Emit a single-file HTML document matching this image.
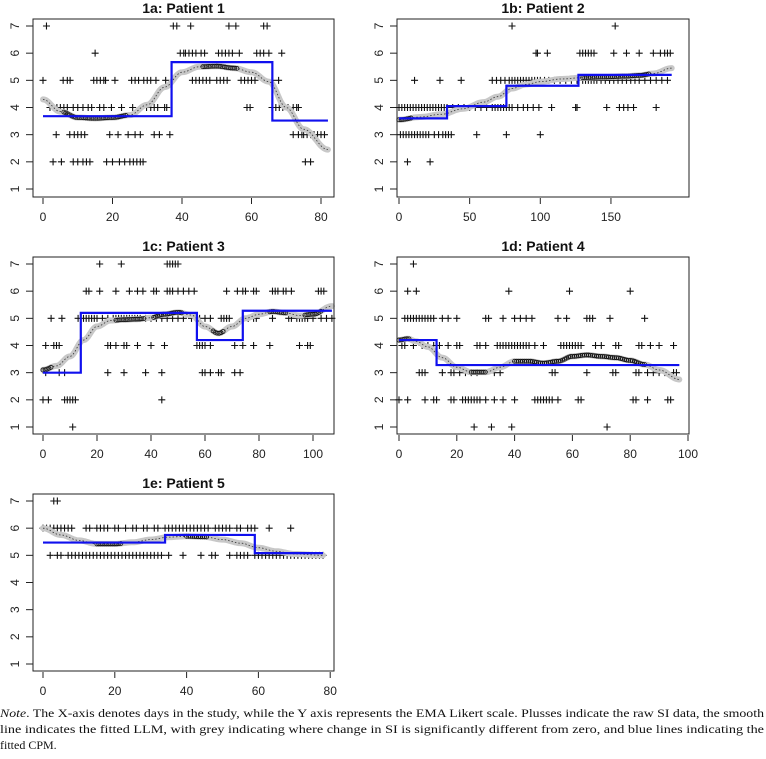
<!DOCTYPE html>
<html><head><meta charset="utf-8"><style>
html,body{margin:0;padding:0;background:#fff;width:766px;height:759px;overflow:hidden}
svg{display:block}
</style></head><body>
<svg id="fig" width="766" height="759" viewBox="0 0 766 759" xmlns="http://www.w3.org/2000/svg">
<text x="0" y="717" font-family="Liberation Serif, serif" font-size="12" fill="#111" textLength="764" lengthAdjust="spacingAndGlyphs"><tspan font-style="italic">Note</tspan>. The X-axis denotes days in the study, while the Y axis represents the EMA Likert scale. Plusses indicate the raw SI data, the smooth</text>
<text x="0" y="733" font-family="Liberation Serif, serif" font-size="12" fill="#111" textLength="764" lengthAdjust="spacingAndGlyphs">line indicates the fitted LLM, with grey indicating where change in SI is significantly different from zero, and blue lines indicating the</text>
<text x="0" y="749" font-family="Liberation Serif, serif" font-size="12" fill="#111">fitted CPM.</text>
</svg>
<script>
// ---------- data ----------
const titles = ["1a: Patient 1","1b: Patient 2","1c: Patient 3","1d: Patient 4","1e: Patient 5"];
const xTicks1 = [0,20,40,60,80];
const xTicks2 = [0,50,100,150];
const xTicks3 = [0,20,40,60,80,100];
const xTicks4 = [0,20,40,60,80,100];
const xTicks5 = [0,20,40,60,80];
const yTicks = [1,2,3,4,5,6,7];

// raw points: per level lists of days
const raw1 = {7:[1,37.5,38.5,42.5,53.5,55.5,63.5,64.5],
 6:[15,39.5,40.5,41,42,43,44,45.5,46.5,50.5,51.5,52.5,53.5,54.5,56.5,61.5,62.5,63.5,65,68.7],
 5:[0,5.8,7,7.8,14.6,15.5,16.5,17.5,18,20.7,25.5,26.5,27.5,29,30,31,32.5,35.3,43,44,45,46,47,48,50,51,52,53,57,58,59,60,61,65.9,67.8],
 4:[2,3,4,5,6,7,8.7,10,11.5,13,14,16.3,17.5,19.7,22.6,25.8,29.8,31,32,33,35,35.6,58.7,59.6,65.9,67,68,69,70.5,72,73,73.5],
 3:[3.8,7.7,9,10,11,12,19.2,21.6,24.5,26.5,28,32,33.5,36.5,72,73.5,74.5,75,76,77,78,79,80,81],
 2:[2.9,5.3,8.7,10,11.5,12.5,13.5,18.3,20,22,23.5,25,26,27,28,28.8,75.5,77]};
const raw2 = {7:[80,153],
 6:[97,98,105,128,130,132,134,136,138,152,161,170,180,185,188,190,192],
 5:[11,29,44,66,69,72,75,78,80,82,84,86,88,90,92,94,96,98,100,103,106,110,114,118,122,126,130,132,134,136,138,140,143,146,149,152,155,158,161,164,167,170,174,178,182,186,190],
 4:[0,2,4,6,8,10,12,14,16,18,20,22,24,26,28,30,32,34,38,42,46,50,54,58,62,66,68,70,72,74,76,78,80,84,88,91,95,99,108,125,126,147,156,159,162,166,182],
 3:[1,3,5,7,9,11,13,15,17,19,21,25,28,31,33,35,37,55,76,100],
 2:[6,22]};
const raw3 = {7:[21,29,46,47,48,49,50],
 6:[16,17,21,27,32,35,37,41,42,46,47,48,50,52,54,56,68,72,74,75,78,79,85,86,87,89,90,92,102,103,104],
 5:[3,7,13,15,16,17,18,19,20,22,24,26,27,28,29,30,31,32,33,34,35,36,38,40,42,44,46,48,50,52,55,57,58,60,62,66,67,68,69,76,78,79,85,91,92,94,95,96,97,98,100,103,105,107],
 4:[1,4,5,6,24,25,27,30,31,35,40,45,57,58,59,60,62,71,74,78,84,95,98,99],
 3:[1,6,8,24,30,38,44,59,60,62,65,66,71,73],
 2:[0,2,8,9,10,11,12,44],
 1:[11]};
const raw4 = {7:[5],
 6:[3,6,38,59,80],
 5:[2,3,4,5,6,7,8,9,10,11,12,15,17,20,30,31,36,40,42,44,46,55,58,65,66,67,73,85],
 4:[1,2,5,8,10,12,14,17,20,21,27,28,30,34,35,36,37,38,39,40,41,42,43,44,45,47,50,56,57,58,59,60,61,62,63,68,70,75,76,83,84,87,90,95],
 3:[7,8,9,15,18,19,21,23,25,27,33,35,53,54,65,74,75,82,83,86,88,90,92,95,96],
 2:[0,3,9,12,13,18,19,22,23,24,25,26,27,28,30,33,36,40,47,48,49,50,51,52,53,55,62,63,81,82,86,93,94],
 1:[26,32,39,72]};
const raw5 = {7:[3,4],
 6:[0,1,2,3,4,5,6,7,8,12,13,15,16,17,18,20,21,23,25,26,28,29,31,32,34,35,36,37,38,39,40,41,42,43,44,45,46,48,49,50,51,52,54,55,57,58,59,63,69],
 5:[2,4,5,7,8,9,10,11,12,13,14,15,16,17,18,19,20,21,22,23,24,25,26,27,28,29,30,31,32,33,35,39,44,47,48,52,54,55,56,57,59,60,61,62,63,64,65,66,67,68,69,70,71,72,73,74,75,76,77,78]};

// smooth LLM knots (day, value)
const llmX1 = [0,5,10,15,20,25,30,35,40,45,50,55,60,65,70,75,82];
const llmY1 = [4.3,3.85,3.63,3.6,3.63,3.72,4.1,4.75,5.3,5.5,5.52,5.45,5.3,4.95,4.0,3.2,2.45];
const llmX2 = [0,15,30,45,60,70,80,90,100,115,130,145,160,170,180,193];
const llmY2 = [3.55,3.65,3.75,3.95,4.2,4.4,4.7,4.85,4.95,5.05,5.1,5.12,5.15,5.18,5.25,5.45];
const llmX3 = [0,5,10,15,20,25,30,35,40,45,50,55,60,65,70,75,80,85,90,95,100,107];
const llmY3 = [3.1,3.25,3.6,4.2,4.7,4.92,4.95,4.97,5.02,5.15,5.22,5.12,4.7,4.45,4.7,5.0,5.15,5.25,5.2,5.1,5.15,5.45];
const llmX4 = [0,3,6,10,15,20,25,30,35,40,45,50,55,60,65,70,75,80,85,90,97];
const llmY4 = [4.2,4.25,4.15,3.95,3.55,3.2,3.02,3.02,3.2,3.42,3.42,3.35,3.42,3.6,3.65,3.6,3.55,3.45,3.3,3.1,2.75];
const llmX5 = [0,5,10,15,20,25,30,35,40,45,50,55,60,65,70,78];
const llmY5 = [6.0,5.75,5.55,5.42,5.42,5.48,5.58,5.67,5.7,5.68,5.58,5.45,5.28,5.15,5.05,5.0];
// non-significant stretches (drawn with open circles)
const ns1 = [[6,24],[46,56]];
const ns2 = [[0,9],[130,178]];
const ns3 = [[0,3],[27,38],[41,52],[63,67],[84,90],[97,103]];
const ns4 = [[0,4],[25,30],[40,85]];
const ns5 = [[15,22],[40,46]];

// change-point model segments: [start, end, level]
const cpm1 = [[0,37,3.68],[37,66,5.67],[66,82,3.52]];
const cpm2 = [[0,34,3.6],[34,76,4.05],[76,127,4.8],[127,193,5.2]];
const cpm3 = [[0,14,3.0],[14,57,5.2],[57,74,4.2],[74,107,5.28]];
const cpm4 = [[0,13,4.2],[13,97,3.28]];
const cpm5 = [[0,34,5.47],[34,59,5.75],[59,78,5.08]];

// ---------- layout ----------
const layouts = [
 {bx0:33,by0:19,bx1:334,by1:197,px0:43,sx:3.475,y7:26,y1:189},
 {bx0:397,by0:19,bx1:689,by1:197,px0:399,sx:1.413,y7:26,y1:189},
 {bx0:33,by0:257,bx1:334,by1:434,px0:43,sx:2.7,y7:264,y1:427},
 {bx0:397,by0:257,bx1:689,by1:434,px0:399,sx:2.89,y7:264,y1:427},
 {bx0:33,by0:494,bx1:334,by1:671,px0:43,sx:3.59,y7:501,y1:664}
];
const panels = [
 {raw:raw1,lx:llmX1,ly:llmY1,ns:ns1,cpm:cpm1,ticks:xTicks1},
 {raw:raw2,lx:llmX2,ly:llmY2,ns:ns2,cpm:cpm2,ticks:xTicks2},
 {raw:raw3,lx:llmX3,ly:llmY3,ns:ns3,cpm:cpm3,ticks:xTicks3},
 {raw:raw4,lx:llmX4,ly:llmY4,ns:ns4,cpm:cpm4,ticks:xTicks4},
 {raw:raw5,lx:llmX5,ly:llmY5,ns:ns5,cpm:cpm5,ticks:xTicks5}
];

const NS = "http://www.w3.org/2000/svg";
const svg = document.getElementById('fig');
function mk(tag, attrs, parent){
  const e = document.createElementNS(NS, tag);
  for (const k in attrs) e.setAttribute(k, attrs[k]);
  (parent||svg).appendChild(e);
  return e;
}
function interp(xs, ys, x){
  if (x <= xs[0]) return ys[0];
  for (let i=1;i<xs.length;i++){
    if (x <= xs[i]){
      const t = (x-xs[i-1])/(xs[i]-xs[i-1]);
      const m = (1-Math.cos(t*Math.PI))/2;
      return ys[i-1]*(1-m)+ys[i]*m;
    }
  }
  return ys[ys.length-1];
}

panels.forEach((p, i) => {
  const L = layouts[i];
  const X = v => L.px0 + v*L.sx;
  const Y = v => L.y1 - (v-1)*(L.y1-L.y7)/6;
  const g = mk('g', {});
  
  

  const t = mk('text', {x:(L.bx0+L.bx1)/2, y:L.by0-6, 'text-anchor':'middle', 'font-family':'Liberation Sans, sans-serif', 'font-size':'14', 'font-weight':'bold', fill:'#111'}, g);
  t.textContent = titles[i];
  
  

  yTicks.forEach(v => {
    const tk = mk('line', {x1:L.bx0-7, x2:L.bx0, y1:Y(v), y2:Y(v), stroke:'#222', 'stroke-width':1}, g);
    
    
    const lb = mk('text', {x:0, y:0, transform:'translate(' + (L.bx0-14) + ',' + Y(v) + ') rotate(-90)', 'text-anchor':'middle', 'font-family':'Liberation Sans, sans-serif', 'font-size':'12', fill:'#222'}, g);
    lb.textContent = v;
    
    
  });
  p.ticks.forEach(v => {
    const tk = mk('line', {x1:X(v), x2:X(v), y1:L.by1+1, y2:L.by1+7, stroke:'#222', 'stroke-width':1}, g);
    
    
    const lb = mk('text', {x:X(v), y:L.by1+24, 'text-anchor':'middle', 'font-family':'Liberation Sans, sans-serif', 'font-size':'12', fill:'#222'}, g);
    lb.textContent = v;
    
    
  });

  let d = '';
  Object.keys(p.raw).forEach(lv => {
    p.raw[lv].forEach(day => {
      const cx = X(day), cy = Y(+lv);
      d += 'M' + (cx-3.5) + ' ' + cy + 'h7M' + cx + ' ' + (cy-3.5) + 'v7';
    });
  });
  const pts = mk('path', {d:d, stroke:'#111', 'stroke-width':1.1, fill:'none'}, g);
  
  

  const x0 = p.lx[0], x1 = p.lx[p.lx.length-1];
  let sd = '';
  for (let k=0;k<=200;k++){
    const xv = x0 + (x1-x0)*k/200;
    sd += (k?'L':'M') + X(xv).toFixed(1) + ' ' + Y(interp(p.lx,p.ly,xv)).toFixed(1);
  }
  const gl = mk('path', {d:sd, stroke:'#c8c8c8', 'stroke-width':6, fill:'none', 'stroke-linecap':'round'}, g);
  
  
  const bl = mk('path', {d:sd, stroke:'#333', 'stroke-width':0.8, 'stroke-dasharray':'1.5 2', fill:'none'}, g);
  
  
  p.ns.forEach(r => {
    const cg = mk('g', {}, g);
    
    
    const step = 2/L.sx;
    for (let xv=r[0]; xv<=r[1]; xv+=step){
      mk('circle', {cx:X(xv), cy:Y(interp(p.lx,p.ly,xv)), r:2, fill:'none', stroke:'#111', 'stroke-width':0.8}, cg);
    }
  });

  let cd = '';
  p.cpm.forEach((s, k) => {
    cd += (k? 'L' : 'M') + X(s[0]) + ' ' + Y(s[2]) + 'L' + X(s[1]) + ' ' + Y(s[2]);
  });
  const cp = mk('path', {d:cd, stroke:'#1010ee', 'stroke-width':2.2, fill:'none'}, g);
  
  

  const bx = mk('rect', {x:L.bx0, y:L.by0, width:L.bx1-L.bx0, height:L.by1-L.by0, fill:'none', stroke:'#222', 'stroke-width':1}, g);
  
  
});
</script>
</body></html>
